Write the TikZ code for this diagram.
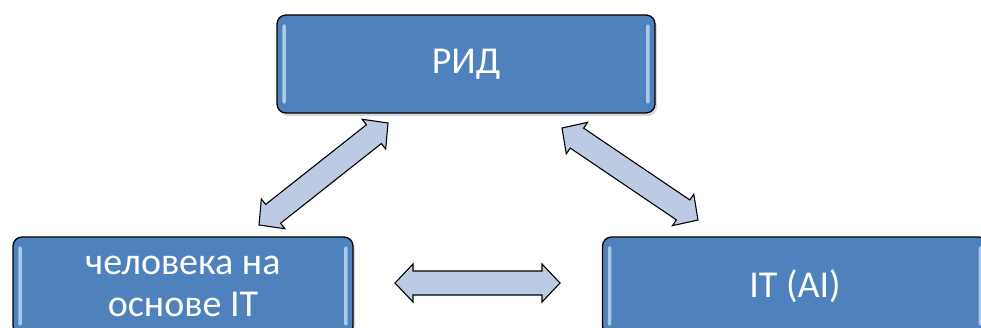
\documentclass[tikz,border=0pt]{standalone}
\usepackage{fontspec}
\setmainfont{Carlito}
\usetikzlibrary{calc,shadows}
\definecolor{boxblue}{HTML}{4F81BD}
\definecolor{arrfill}{HTML}{BCCBE3}
\definecolor{shinecol}{HTML}{B9D7F5}
\tikzset{
  mainbox/.style={draw=black, line width=1.3pt, fill=boxblue, rounded corners=9pt,
    text=white, font=\fontsize{38}{42}\selectfont, align=center, inner sep=0pt,
    drop shadow={opacity=0.3, shadow xshift=2pt, shadow yshift=-3pt}},
  shine/.style={fill=shinecol, rounded corners=2pt, draw=none, opacity=0.85},
  bigarrow/.style={draw=black, line width=1.1pt, line join=miter, fill=arrfill}
}
\newcommand\dblarrow[2]{%
  \path ($(#1)!18pt!(#2)$) coordinate (a1) ($(#2)!18pt!(#1)$) coordinate (b1);
  \draw[bigarrow] (#1) -- ($(a1)!19pt!90:(#2)$) -- ($(a1)!12pt!90:(#2)$)
    -- ($(b1)!12pt!-90:(#1)$) -- ($(b1)!19pt!-90:(#1)$) -- (#2)
    -- ($(b1)!19pt!90:(#1)$) -- ($(b1)!12pt!90:(#1)$)
    -- ($(a1)!12pt!-90:(#2)$) -- ($(a1)!19pt!-90:(#2)$) -- cycle;}
\newcommand\shinebars[1]{%
  \fill[shine] ($(#1.north west)+(6,-10)$) rectangle ($(#1.south west)+(9.5,10)$);
  \fill[shine] ($(#1.north east)+(-9.5,-10)$) rectangle ($(#1.south east)+(-6,10)$);}
\begin{document}
\begin{tikzpicture}[x=1pt,y=1pt]
\useasboundingbox (0,0) rectangle (981,327);
\clip (0,0) rectangle (981,327);
\node[mainbox, minimum width=378, minimum height=98] (rid) at (466,263) {РИД};
\node[mainbox, minimum width=340, minimum height=98] (hum) at (183,41) {человека на\\основе IT};
\node[mainbox, minimum width=385, minimum height=98] (it) at (795,41) {IT (AI)};
\shinebars{rid}
\shinebars{hum}
\shinebars{it}
\coordinate (l1) at (388,204);
\coordinate (l2) at (259,102);
\coordinate (r1) at (562,199);
\coordinate (r2) at (698,107);
\coordinate (h1) at (395,44);
\coordinate (h2) at (560,44);
\dblarrow{l1}{l2}
\dblarrow{r1}{r2}
\dblarrow{h1}{h2}
\end{tikzpicture}
\end{document}
